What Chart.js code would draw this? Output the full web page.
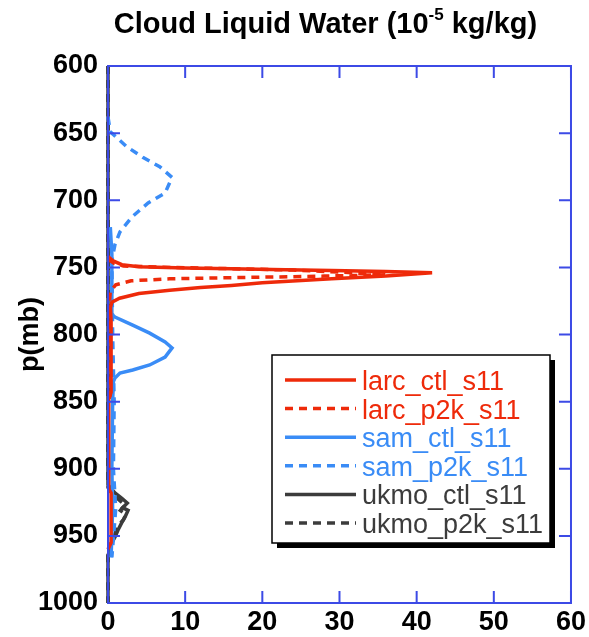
<!DOCTYPE html>
<html><head><meta charset="utf-8">
<script src="https://cdn.jsdelivr.net/npm/chart.js@4/dist/chart.umd.min.js"></script>
<style>html,body{margin:0;padding:0;background:#fff;}#wrap{width:589px;height:637px;position:relative}</style>
</head><body><div id="wrap"><canvas id="c" width="589" height="637"></canvas></div>
<script>
// ---- data ----
const xTicks = [0, 10, 20, 30, 40, 50, 60];
const yTicks = [600, 650, 700, 750, 800, 850, 900, 950, 1000];
const seriesNames = ['larc_ctl_s11', 'larc_p2k_s11', 'sam_ctl_s11', 'sam_p2k_s11', 'ukmo_ctl_s11', 'ukmo_p2k_s11'];

const larcCtlP = [742, 745, 748, 749.5, 750.5, 751, 751.8, 752.3, 753, 754, 756.5, 758.5, 761.5, 763.5, 765, 767, 769.5, 773, 776, 780, 790, 843, 848, 915, 918, 955, 960];
const larcCtlV = [0, 0.6, 1.8, 4, 10, 16, 23, 29, 36, 42, 36, 29, 20, 16, 12, 8, 4, 1.5, 0.5, 0.3, 0.4, 0.4, 0.1, 0.1, 0.4, 0.4, 0];

const larcP2kP = [744, 747, 749, 750, 751, 752, 753.5, 755.5, 756.5, 757.5, 758.5, 760, 763, 768, 775, 780, 845, 850];
const larcP2kV = [0, 0.8, 2, 8, 16, 24, 30, 36, 28, 18, 8, 3, 1, 0.3, 0.2, 0.3, 0.3, 0];

const samCtlP = [720, 740, 785, 787, 793, 799, 805.6, 810, 816.8, 822.7, 826.4, 828.7, 832.4, 835, 850, 900, 930, 966];
const samCtlV = [0.3, 0.5, 0.5, 0.9, 3.2, 5.4, 7.4, 8.3, 7.4, 5.4, 3.2, 1.55, 0.9, 0.7, 0.6, 0.5, 0.6, 0.4];

const samP2kP = [638, 649, 660, 668, 675, 683, 694.6, 702, 712.5, 723.6, 733, 745, 800, 850, 900, 930, 966];
const samP2kV = [0, 0.3, 2.4, 4.5, 6.7, 8.3, 7.4, 5.2, 3.1, 1.55, 0.9, 0.5, 0.6, 0.8, 0.7, 1.0, 0.5];

const ukmoCtlP = [600, 912, 918, 922, 925.5, 929, 931, 936, 940, 945.6, 951, 955, 960, 965, 1000];
const ukmoCtlV = [0, 0, 0.9, 1.8, 2.5, 1.9, 2.6, 2.2, 1.8, 1.3, 0.9, 0.5, 0.2, 0, 0];

const ukmoP2kP = [600, 914, 919, 923, 927, 931, 934, 938, 942, 947, 953, 958, 963, 1000];
const ukmoP2kV = [0, 0, 0.6, 1.4, 2.2, 1.6, 2.3, 2.0, 1.4, 1.0, 0.6, 0.2, 0, 0];

// ---- styling ----
const RED = '#ee2a0a', BLUE = '#3a8cf6', GRAY = '#3c3c3c', AXIS = '#3c4ae6';
const DASH = [8, 6];
const FONT = '"Liberation Sans", Arial, sans-serif';

function pts(v, p) { return v.map((x, i) => ({ x: x, y: p[i] })); }
function ds(label, v, p, color, dashed) {
  return { label, data: pts(v, p), borderColor: color, backgroundColor: color,
    borderWidth: 3.5, borderDash: dashed ? DASH : [], pointRadius: 0, showLine: true,
    tension: 0, clip: 4, fill: false };
}

const datasets = [
  ds(seriesNames[0], larcCtlV, larcCtlP, RED, false),
  ds(seriesNames[1], larcP2kV, larcP2kP, RED, true),
  ds(seriesNames[2], samCtlV, samCtlP, BLUE, false),
  ds(seriesNames[3], samP2kV, samP2kP, BLUE, true),
  ds(seriesNames[4], ukmoCtlV, ukmoCtlP, GRAY, false),
  ds(seriesNames[5], ukmoP2kV, ukmoP2kP, GRAY, true)
];

const framePlugin = {
  id: 'frame',
  afterDatasetsDraw(chart) {
    const ctx = chart.ctx, a = chart.chartArea;
    const xs = chart.scales.x, ys = chart.scales.y;
    ctx.save();
    ctx.strokeStyle = AXIS; ctx.lineWidth = 2;
    ctx.strokeRect(a.left, a.top, a.right - a.left, a.bottom - a.top);
    const L = 12;
    ctx.beginPath();
    xTicks.forEach(t => {
      const x = xs.getPixelForValue(t);
      ctx.moveTo(x, a.bottom); ctx.lineTo(x, a.bottom - L);
      ctx.moveTo(x, a.top); ctx.lineTo(x, a.top + L);
    });
    yTicks.forEach(t => {
      const y = ys.getPixelForValue(t);
      ctx.moveTo(a.left, y); ctx.lineTo(a.left + L, y);
      ctx.moveTo(a.right, y); ctx.lineTo(a.right - L, y);
    });
    ctx.stroke();
    ctx.restore();
  },
  afterDraw(chart) {
    const ctx = chart.ctx;
    ctx.save();
    // title
    ctx.fillStyle = '#000';
    ctx.textBaseline = 'alphabetic';
    ctx.textAlign = 'left';
    const big = 'bold 29px ' + FONT, small = 'bold 17px ' + FONT;
    const p1 = 'Cloud Liquid Water (10', p2 = '-5', p3 = ' kg/kg)';
    ctx.font = big; const w1 = ctx.measureText(p1).width, w3 = ctx.measureText(p3).width;
    ctx.font = small; const w2 = ctx.measureText(p2).width;
    const total = w1 + w2 + w3;
    let x = 325.5 - total / 2; const base = 33;
    ctx.font = big; ctx.fillText(p1, x, base); x += w1;
    ctx.font = small; ctx.fillText(p2, x, base - 13); x += w2;
    ctx.font = big; ctx.fillText(p3, x, base);

    // legend
    const bx = 272, by = 355, bw = 278, bh = 188;
    ctx.fillStyle = '#000';
    ctx.fillRect(bx + 5, by + 5, bw, bh);
    ctx.fillStyle = '#fff';
    ctx.fillRect(bx, by, bw, bh);
    ctx.strokeStyle = '#000'; ctx.lineWidth = 1.5;
    ctx.strokeRect(bx, by, bw, bh);
    ctx.font = '27px ' + FONT;
    chart.data.datasets.forEach((d, i) => {
      const y = 380 + i * 28.6;
      ctx.strokeStyle = d.borderColor; ctx.lineWidth = 3.5;
      ctx.setLineDash(d.borderDash || []);
      ctx.beginPath(); ctx.moveTo(285, y); ctx.lineTo(356, y); ctx.stroke();
      ctx.setLineDash([]);
      ctx.fillStyle = d.borderColor;
      ctx.fillText(d.label, 362, y + 10);
    });
    ctx.restore();
  }
};

new Chart(document.getElementById('c'), {
  type: 'scatter',
  data: { datasets },
  options: {
    responsive: false, animation: false, devicePixelRatio: 1,
    layout: { padding: { top: 66, right: 18, left: 0, bottom: 0 } },
    plugins: { legend: { display: false }, tooltip: { enabled: false } },
    scales: {
      x: {
        type: 'linear', min: 0, max: 60,
        afterBuildTicks: s => { s.ticks = xTicks.map(v => ({ value: v })); },
        afterFit: s => { s.height = 34; },
        grid: { display: false, drawTicks: false }, border: { display: false },
        ticks: { color: '#000', font: { family: FONT, size: 27, weight: 'bold' }, padding: 3, maxRotation: 0,
          callback: v => String(v) }
      },
      y: {
        type: 'linear', min: 600, max: 1000, reverse: true,
        afterBuildTicks: s => { s.ticks = yTicks.map(v => ({ value: v })); },
        afterFit: s => { s.width = 108; },
        grid: { display: false, drawTicks: false }, border: { display: false },
        ticks: { color: '#000', font: { family: FONT, size: 27, weight: 'bold' }, padding: 10,
          callback: v => String(v) },
        title: { display: true, text: 'p(mb)', color: '#000', font: { family: FONT, size: 27, weight: 'bold' }, padding: { top: 14, bottom: 0 } }
      }
    }
  },
  plugins: [framePlugin]
});
</script>
</body></html>
